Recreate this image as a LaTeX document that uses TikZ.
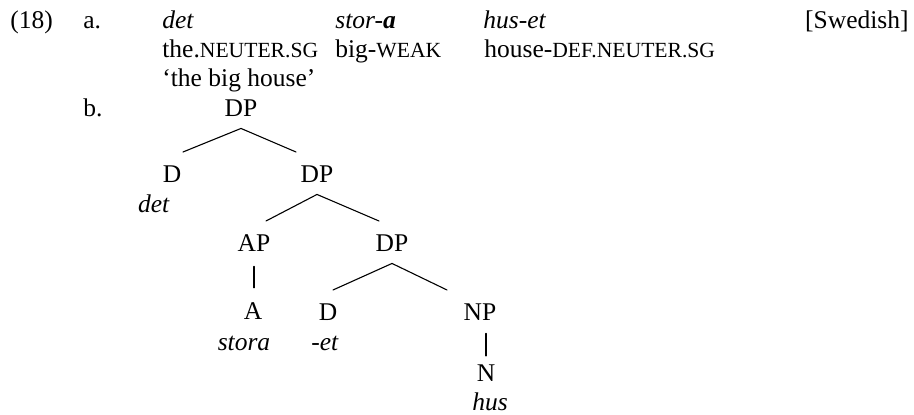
\documentclass[tikz,border=0pt]{standalone}
\usepackage{fontspec}
\setmainfont{Liberation Serif}
\usepackage{tikz}
\newcommand{\glsc}[1]{{\fontsize{10.8pt}{12pt}\selectfont #1}}

\begin{document}
\begin{tikzpicture}[line cap=round,line join=round,x=0.5pt,y=-0.5pt,
  font=\fontsize{12.75pt}{15pt}\selectfont,
  txt/.style={anchor=base west,inner sep=0pt},
  lab/.style={anchor=base,inner sep=0pt},
  branch/.style={line width=0.55pt}]
\useasboundingbox (0,0) rectangle (914,415);
\node[txt] (exnum) at (10,29) {(18)};
\node[txt] (exa) at (83,29) {a.};
\node[txt] (w1) at (162,29) {\textit{det}};
\node[txt] (w2) at (335,29) {\textit{stor-\textbf{a}}};
\node[txt] (w3) at (483,29) {\textit{hus-et}};
\node[anchor=base east,inner sep=0pt] (lang) at (909,29) {[Swedish]};
\node[txt] (g1) at (162,57.5) {the.\glsc{NEUTER.SG}};
\node[txt] (g2) at (335,57.5) {big-\glsc{WEAK}};
\node[txt] (g3) at (484,57.5) {house-\glsc{DEF.NEUTER.SG}};
\node[txt] (trans) at (162,87) {‘the big house’};
\node[txt] (exb) at (83,117) {b.};
\node[lab] (dpa) at (241,117) {DP};
\node[lab] (da) at (172,183) {D};
\node[lab] (det) at (154,213) {\textit{det}};
\node[lab] (dpb) at (317,183) {DP};
\node[lab] (ap) at (254,252) {AP};
\node[lab] (dpc) at (392,252) {DP};
\node[lab] (aa) at (253,320) {A};
\node[lab] (stora) at (244,351) {\textit{stora}};
\node[lab] (db) at (328,321) {D};
\node[lab] (et) at (325,351) {\textit{-et}};
\node[lab] (np) at (480,321) {NP};
\node[lab] (nn) at (486,382) {N};
\node[lab] (hus) at (490,411) {\textit{hus}};
\coordinate (dpa-l) at (183,152);
\coordinate (dpa-r) at (296,152);
\coordinate (dpb-l) at (266,221);
\coordinate (dpb-r) at (379,221);
\coordinate (dpc-l) at (333,290);
\coordinate (dpc-r) at (447,290);
\draw [branch] (dpa-l) -- ([yshift=-5.5pt]dpa.south) -- (dpa-r);
\draw [branch] (dpb-l) -- ([yshift=-5.5pt]dpb.south) -- (dpb-r);
\draw [branch] (dpc-l) -- ([yshift=-5.5pt]dpc.south) -- (dpc-r);
\draw [branch,shorten <=7pt,shorten >=7.5pt] (ap.south) -- (ap.south |- aa.north);
\draw [branch,shorten <=6pt,shorten >=4.5pt] (nn.north |- np.south) -- (nn.north);
\end{tikzpicture}
\end{document}
